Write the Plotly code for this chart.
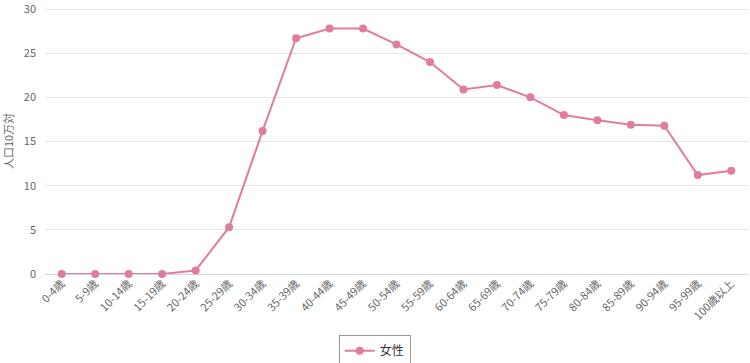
import plotly.graph_objects as go

categories = ["0-4歳", "5-9歳", "10-14歳", "15-19歳", "20-24歳", "25-29歳", "30-34歳",
              "35-39歳", "40-44歳", "45-49歳", "50-54歳", "55-59歳", "60-64歳", "65-69歳",
              "70-74歳", "75-79歳", "80-84歳", "85-89歳", "90-94歳", "95-99歳", "100歳以上"]
female = [0.0, 0.0, 0.0, 0.0, 0.4, 5.3, 16.2, 26.7, 27.8, 27.8, 26.0, 24.0, 20.9, 21.4,
          20.0, 18.0, 17.4, 16.9, 16.8, 11.2, 11.7]
y_ticks = [0, 5, 10, 15, 20, 25, 30]

font_family = "Noto Sans CJK JP, Roboto, sans-serif"
color = "#e07d9e"

fig = go.Figure()
fig.add_trace(go.Scatter(
    x=categories, y=female, name="女性", mode="lines+markers",
    line=dict(color=color, width=2),
    marker=dict(color=color, size=8),
    cliponaxis=False,
))

fig.update_layout(
    width=750, height=363,
    margin=dict(l=45, r=1.5, t=8, b=89, autoexpand=False),
    paper_bgcolor="white", plot_bgcolor="white",
    font=dict(family=font_family, size=11, color="#666666"),
    showlegend=True,
    legend=dict(
        orientation="h", x=0.469, xanchor="center", y=-0.23, yanchor="top",
        bordercolor="#999999", borderwidth=1,
        font=dict(size=12, color="#333333", family=font_family),
    ),
    xaxis=dict(
        type="category", tickangle=-45, tickfont=dict(size=11, color="#666666"),
        showgrid=False, showline=False, ticks="", range=[-0.5, len(categories) - 0.5],
        automargin=False, ticklabeloverflow="allow",
    ),
    yaxis=dict(
        range=[0, 30.12], tickvals=y_ticks,
        gridcolor="#e6e6e6", gridwidth=1,
        zeroline=True, zerolinecolor="#ccd6eb", zerolinewidth=1,
        tickfont=dict(size=11, color="#666666"), ticks="", ticklabelstandoff=8,
        ticklabeloverflow="allow",
        title=dict(text="人口10万対", font=dict(size=11, color="#666666"), standoff=10),
        automargin=False,
    ),
)

fig.write_html("out.html")
